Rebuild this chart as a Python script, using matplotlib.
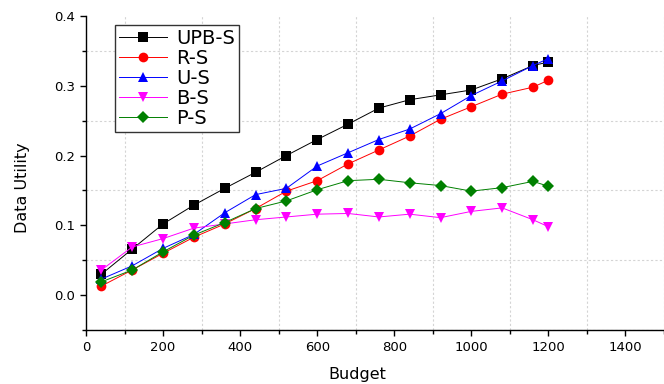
import matplotlib
matplotlib.use("Agg")
import matplotlib.pyplot as plt
from matplotlib.ticker import MultipleLocator, FormatStrFormatter

budget = [40, 120, 200, 280, 360, 440, 520, 600, 680, 760, 840, 920, 1000, 1080, 1160, 1200]

upb_s = [0.030, 0.066, 0.102, 0.129, 0.153, 0.176, 0.200, 0.223, 0.245, 0.268,
         0.280, 0.287, 0.294, 0.310, 0.329, 0.334]
r_s = [0.013, 0.036, 0.060, 0.083, 0.102, 0.124, 0.149, 0.164, 0.188, 0.208,
       0.228, 0.252, 0.270, 0.288, 0.298, 0.308]
u_s = [0.023, 0.042, 0.067, 0.087, 0.118, 0.144, 0.153, 0.185, 0.204, 0.223,
       0.238, 0.260, 0.286, 0.307, 0.329, 0.339]
b_s = [0.036, 0.069, 0.081, 0.096, 0.102, 0.108, 0.112, 0.116, 0.117, 0.112,
       0.116, 0.111, 0.120, 0.125, 0.108, 0.098]
p_s = [0.019, 0.036, 0.062, 0.086, 0.104, 0.124, 0.135, 0.151, 0.164, 0.166,
       0.161, 0.157, 0.149, 0.154, 0.163, 0.156]

series_names = ["UPB-S", "R-S", "U-S", "B-S", "P-S"]
series_values = [upb_s, r_s, u_s, b_s, p_s]
series_colors = ["black", "red", "blue", "magenta", "green"]
series_markers = ["s", "o", "^", "v", "D"]
series_msize = [6.5, 7, 7.5, 7.5, 6]

x_label = "Budget"
y_label = "Data Utility"

plt.rcParams["font.family"] = ["DejaVu Sans"]

fig = plt.figure(figsize=(6.64, 3.84), dpi=100)
ax = fig.add_axes([86 / 664, 54 / 384, 578 / 664, 314 / 384])

for name, vals, col, mk, ms in zip(series_names, series_values, series_colors,
                                   series_markers, series_msize):
    ax.plot(budget, vals, color=col, lw=0.7, marker=mk, markersize=ms,
            markeredgewidth=0, label=name, zorder=3)

ax.set_xlim(0, 1500)
ax.set_ylim(-0.05, 0.4)
ax.xaxis.set_major_locator(MultipleLocator(200))
ax.xaxis.set_minor_locator(MultipleLocator(100))
ax.yaxis.set_major_locator(MultipleLocator(0.1))
ax.yaxis.set_minor_locator(MultipleLocator(0.05))
ax.yaxis.set_major_formatter(FormatStrFormatter("%.1f"))

ax.grid(which="minor", color="#d4d4d4", linestyle=(0, (2, 2)), linewidth=0.8)
ax.grid(which="major", visible=False)
ax.set_axisbelow(True)

for side in ("top", "right"):
    ax.spines[side].set_visible(False)
for side in ("left", "bottom"):
    ax.spines[side].set_linewidth(1.0)

ax.tick_params(which="both", direction="out", width=1.0, labelsize=9.5, pad=4)
ax.tick_params(which="major", length=4)
ax.tick_params(which="minor", length=3)

ax.set_xlabel(x_label, fontsize=11.5)
ax.xaxis.set_label_coords(0.47, -0.143)
ax.xaxis.label.set_verticalalignment("center")
ax.set_ylabel(y_label, fontsize=11.5)
ax.yaxis.set_label_coords(-0.109, 0.454)
ax.yaxis.label.set_verticalalignment("center")

leg = ax.legend(loc="upper left", bbox_to_anchor=(0.05, 0.971), borderaxespad=0,
                fontsize=14, fancybox=False, framealpha=1, edgecolor="#333333",
                handlelength=2.5, handletextpad=0.45, labelspacing=0.05,
                borderpad=0.2)
leg.get_frame().set_linewidth(1.0)

fig.savefig("out.png", dpi=100)
